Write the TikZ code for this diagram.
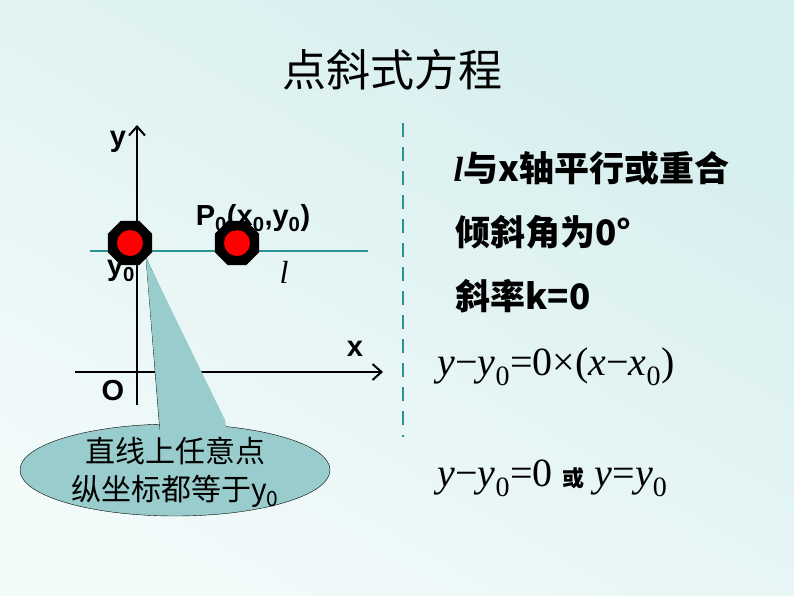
\documentclass[tikz,border=0pt]{standalone}
\usepackage{fontspec}
\setmainfont{Liberation Sans}
\newfontfamily\cjk{Noto Sans CJK SC}
\newfontfamily\tms{Liberation Serif}
\usetikzlibrary{shapes.geometric,arrows.meta}
\tikzset{
  dot/.style={regular polygon,regular polygon sides=8,fill=black,minimum size=48pt,inner sep=0pt},
  inner dot/.style={circle,fill=red,minimum size=26pt,inner sep=0pt},
  lbl/.style={font=\fontsize{29}{33}\selectfont\bfseries},
  fact/.style={anchor=west,font=\fontsize{35}{39}\selectfont\cjk\bfseries},
  eqn/.style={anchor=west,font=\fontsize{40}{44}\selectfont\tms},
}
\definecolor{teal1}{HTML}{2A9494}
\definecolor{bubble}{HTML}{99CCCC}
\definecolor{bgtop}{HTML}{D6EEEE}
\definecolor{bgbot}{HTML}{F2FAFA}
\begin{document}
\begin{tikzpicture}[x=1pt,y=-1pt]
\shade[top color=bgtop, bottom color=bgbot, shading angle=-30] (0,0) rectangle (794,596);

\node (title) at (392,70) {\fontsize{44}{48}\selectfont\cjk 点斜式方程};

% axes
\coordinate (Ybot) at (137,405);
\coordinate (Ytop) at (137,125);
\coordinate (Xl) at (75,372);
\coordinate (Xr) at (383,372);
\draw[line width=2pt,-{Straight Barb[length=9pt,width=16pt]}] (Ybot) -- (Ytop);
\draw[line width=2pt,-{Straight Barb[length=9pt,width=16pt]}] (Xl) -- (Xr);
\node[lbl] (ylab) at (118,142) {y};
\node[lbl] (xlab) at (355,349) {x};
\node[lbl] (olab) at (113,391) {O};

% line l
\coordinate (Ll) at (90,251);
\coordinate (Lr) at (368,251);
\draw[teal1,line width=2.5pt] (Ll) -- (Lr);
\node (llab) at (284,272) {\fontsize{32}{34}\selectfont\tms\itshape l};

% callout
\coordinate (tip) at (146,258);
\draw[fill=bubble] (175,470) ellipse (155pt and 46pt);
\draw[fill=bubble] (160,433) -- (tip) -- (225,427);
\fill[bubble] (158,440) -- (160,425) -- (tip) -- (225,420) -- (228,440) -- cycle;
\node[align=center,font=\fontsize{30}{38}\selectfont\cjk] (note) at (175,472) {直线上任意点\\纵坐标都等于y\textsubscript{0}};

% points
\node[dot] (A) at (130,243) {};
\node[inner dot] at (A) {};
\node[dot] (P) at (237,243) {};
\node[inner dot] at (P) {};
\node[lbl] (plab) at (253,218) {P\textsubscript{0}(x\textsubscript{0},y\textsubscript{0})};
\node[lbl] (y0lab) at (121,271) {y\textsubscript{0}};

% divider
\draw[teal1,line width=2.5pt,dash pattern=on 14pt off 10pt] (403,123) -- (403,437);

% facts
\node[fact] (f1) at (450,168) {{\tms\itshape l}与x轴平行或重合};
\node[fact] (f2) at (452,232) {倾斜角为0°};
\node[fact] (f3) at (452,296) {斜率k=0};

\node[eqn] (e1) at (434,367) {\textit{y}−\textit{y}\textsubscript{0}=0×(\textit{x}−\textit{x}\textsubscript{0})};
\node[eqn] (e2) at (434,478) {\textit{y}−\textit{y}\textsubscript{0}=0 {\fontsize{22}{24}\selectfont\cjk\bfseries 或} \textit{y}=\textit{y}\textsubscript{0}};
\end{tikzpicture}
\end{document}
